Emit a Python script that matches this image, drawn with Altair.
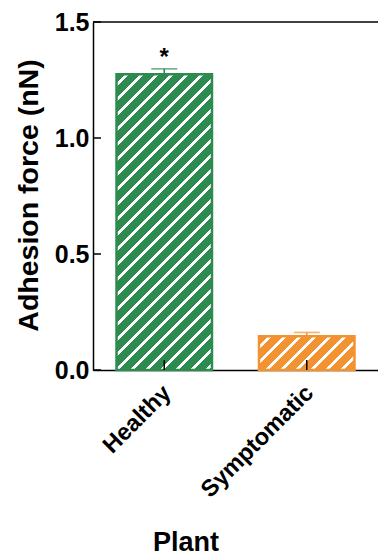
import altair as alt
import pandas as pd

# Mean adhesion force per plant group, with standard error and significance mark
plant = ["Healthy", "Symptomatic"]
force = [1.275, 0.146]
sem = [0.023, 0.016]
sig = ["*", ""]
colors = ["#2E8B50", "#F39231"]
y_ticks = [0.0, 0.5, 1.0, 1.5]

W_PLOT, H_PLOT = 285, 348
PAD_IN, PAD_OUT = 0.33, 0.165
Y_MAX = 1.5
FONT = "Liberation Sans"

df = pd.DataFrame({"Plant": plant, "force": force, "sem": sem, "sig": sig})
df["upper"] = df["force"] + df["sem"]
ticks_df = pd.DataFrame({"v": y_ticks})

step = W_PLOT / (len(plant) - PAD_IN + 2 * PAD_OUT)
band = step * (1 - PAD_IN)


def hatch(color, value, period=15.0, line=4.0):
    """Diagonal white hatching as a hard-stop linear gradient (45 degree stripes)."""
    w, h = band, value / Y_MAX * H_PLOT
    span = w + h
    k = span / (w * w + h * h)
    stops = [{"offset": 0.0, "color": color}]
    s = period * 0.6
    while s < span:
        a = s / span
        b = min((s + line) / span, 1.0)
        stops += [
            {"offset": a, "color": color},
            {"offset": a, "color": "white"},
            {"offset": b, "color": "white"},
            {"offset": b, "color": color},
        ]
        s += period
    stops.append({"offset": 1.0, "color": color})
    return {"gradient": "linear", "x1": 0, "y1": 0, "x2": k * w, "y2": k * h, "stops": stops}


color_scale = alt.Scale(domain=plant, range=colors)
x_scale = alt.Scale(domain=plant, paddingInner=PAD_IN, paddingOuter=PAD_OUT)
y_scale = alt.Scale(domain=[0, Y_MAX], nice=False, zero=True)

x_axis = alt.Axis(
    title="Plant", labelAngle=315, labelAlign="right", labelBaseline="middle",
    labelPadding=19, labelOffset=3, labelFont=FONT, labelFontSize=23.5,
    labelFontWeight="bold", labelColor="black", ticks=False,
    domainColor="black", domainWidth=1.5,
    titleFont=FONT, titleFontSize=27, titleFontWeight="bold", titleColor="black",
    titleX=92.5, titleY=180, titleAlign="center", titleBaseline="alphabetic",
    grid=False,
)
y_axis = alt.Axis(
    title="Adhesion force (nN)", values=y_ticks, format=".1f", ticks=False,
    labelFont=FONT, labelFontSize=25, labelFontWeight="bold", labelColor="black",
    labelPadding=4, domainColor="black", domainWidth=1.5, grid=False,
    titleFont=FONT, titleFontSize=28.5, titleFontWeight="bold", titleColor="black",
    titleAngle=270, titleX=-56, titleY=173, titleAlign="center",
    titleBaseline="alphabetic",
)

base = alt.Chart(df)

bars = base.mark_bar(strokeWidth=2.5, opacity=1).encode(
    x=alt.X("Plant:N", sort=plant, scale=x_scale, axis=x_axis),
    y=alt.Y("force:Q", scale=y_scale, axis=y_axis),
    fill=alt.condition(
        "datum.Plant === 'Healthy'",
        alt.value(hatch(colors[0], force[0])),
        alt.value(hatch(colors[1], force[1])),
    ),
    stroke=alt.Stroke("Plant:N", scale=color_scale, legend=None),
)

stems = base.mark_rule(strokeWidth=1.6).encode(
    x=alt.X("Plant:N", sort=plant),
    y=alt.Y("force:Q"),
    y2="upper:Q",
    color=alt.Color("Plant:N", scale=color_scale, legend=None),
)

caps = base.mark_tick(size=26, thickness=1.6, orient="horizontal").encode(
    x=alt.X("Plant:N", sort=plant),
    y=alt.Y("upper:Q"),
    color=alt.Color("Plant:N", scale=color_scale, legend=None),
)

stars = base.transform_filter("datum.sig !== ''").mark_text(
    font=FONT, fontSize=24, fontWeight="bold", color="black",
    baseline="alphabetic", dy=-4,
).encode(
    x=alt.X("Plant:N", sort=plant),
    y=alt.Y("upper:Q"),
    text="sig:N",
)

x_ticks = base.mark_rule(color="black", strokeWidth=1.5).encode(
    x=alt.X("Plant:N", sort=plant),
    y=alt.value(H_PLOT),
    y2=alt.value(H_PLOT - 10),
)

# inward-pointing y ticks plus the frame line along the top of the plot
y_tick_marks = alt.Chart(ticks_df).mark_rule(color="black", strokeWidth=1.5).encode(
    y=alt.Y("v:Q"),
    x=alt.value(0),
    x2=alt.value(8),
)
top_line = alt.Chart(ticks_df).transform_filter(
    alt.datum.v == Y_MAX
).mark_rule(color="black", strokeWidth=1.5).encode(
    y=alt.Y("v:Q"),
)

chart = alt.layer(
    bars, stems, caps, stars, x_ticks, y_tick_marks, top_line
).properties(
    width=W_PLOT,
    height=H_PLOT,
    padding={"left": 93, "top": 22, "right": 0, "bottom": 186},
    autosize=alt.AutoSizeParams(type="none"),
    background="white",
).configure_view(stroke=None)

chart.save("out.html", embed_options={"renderer": "svg", "actions": False})
